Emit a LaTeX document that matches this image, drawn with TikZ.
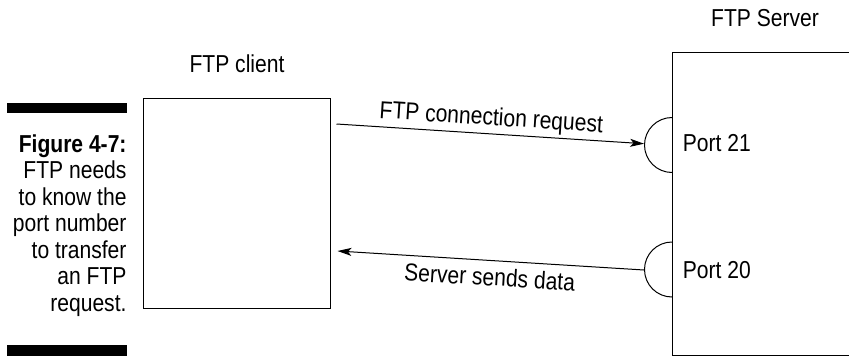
\documentclass[tikz,border=0pt]{standalone}
\usepackage{fontspec}
\setmainfont{Liberation Sans}[FakeStretch=0.86]
\usepackage{xcolor}
\usetikzlibrary{arrows.meta,positioning}
\newcommand{\labelfont}{\fontsize{24.5}{26.5}\selectfont}

\begin{document}
\begin{tikzpicture}[x=1pt, y=-1pt, line width=1pt,
    box/.style={draw, rectangle, inner sep=0pt},
    port/.style={circle, minimum size=55pt, inner sep=0pt},
    msg/.style={-{Stealth[length=14pt, width=8pt, inset=3.5pt]}},
    bar/.style={fill=black, draw=none}]
                \clip (0,0) rectangle (849,356);
                \fill[white] (0,0) rectangle (849,356);
                % caption at the left
                \fill[bar] (7,103) rectangle (127,113);
                \fill[bar] (7,345) rectangle (127,356);
                \node[font=\labelfont, align=right, inner sep=0pt, anchor=north east] (caption) at (127,134) {
                    \textbf{Figure 4-7:}\\
                    FTP needs\\
                    to know the\\
                    port number\\
                    to transfer\\
                    an FTP\\
                    request.
                };
                % client and server
                \node[box, minimum width=187pt, minimum height=210pt] (client) at (236.5,203) {};
                \node[font=\labelfont, anchor=base] (clientname) at (237,72) {FTP client};
                \node[box, minimum width=200pt, minimum height=303pt, anchor=north west] (server) at (672,52) {};
                \node[font=\labelfont, anchor=base] (servername) at (765,27) {FTP Server};
                % ports
                \node[port] (p21) at (672,145.5) {};
                \node[port] (p20) at (672,270) {};
                \draw (p21.north) arc[start angle=90, end angle=270, radius=27.5pt];
                \draw (p20.north) arc[start angle=90, end angle=270, radius=27.5pt];
                \node[font=\labelfont, anchor=base west] (p21name) at (679,151) {Port 21};
                \node[font=\labelfont, anchor=base west] (p20name) at (679,278) {Port 20};
                % messages
                \draw[msg] ([shift={(6,-79)}]client.east) -- (p21)
                    node[midway, sloped, above, font=\labelfont, inner sep=3pt] {FTP connection request};
                \draw[msg] (p20.west) -- ([shift={(7,48)}]client.east)
                    node[midway, sloped, below, font=\labelfont, inner sep=7pt] {Server sends data};
            \end{tikzpicture}
\end{document}
